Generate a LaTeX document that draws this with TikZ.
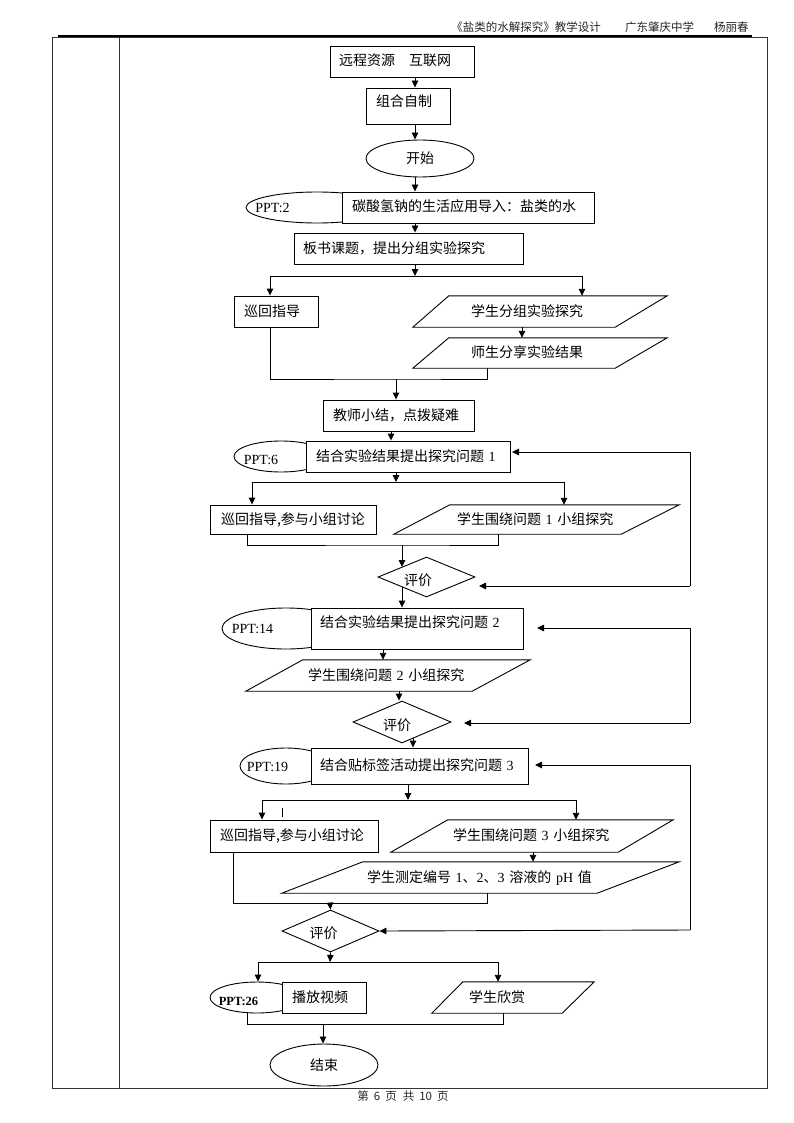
\documentclass[tikz,border=0pt]{standalone}
\usepackage{fontspec}
\setmainfont{Liberation Serif}
\newfontfamily\zhf{Noto Sans CJK SC}
\newfontfamily\latf{Liberation Serif}
\usetikzlibrary{shapes.geometric,arrows.meta}
\begin{document}
\begin{tikzpicture}[x=1pt,y=-1pt,
  line/.style={line width=0.9pt, draw=black},
  arr/.style={line, -{Triangle[length=7pt,width=6.5pt]}},
  zh/.style={font=\fontsize{14}{16}\selectfont\zhf},
  ppt/.style={font=\fontsize{14}{16}\selectfont\latf},
  shp/.style={line, fill=white, inner sep=0pt, zh},
  tb/.style 2 args={shp, rectangle, minimum width=#1, minimum height=#2, text width=#1, align=left, text height=12pt, text depth=3pt},
  pb/.style 2 args={zh, inner sep=0pt, rectangle, minimum width=#1, minimum height=#2, text width=#1, align=left, text height=12pt, text depth=3pt},
  ell/.style 2 args={shp, ellipse, minimum width=#1, minimum height=#2},
  dia/.style 2 args={shp, diamond, minimum width=#1, minimum height=#2},
  hdr/.style={font=\fontsize{11.5}{14}\selectfont\zhf, inner sep=0pt, text=black!85}
]
\useasboundingbox (0,0) rectangle (794,1123);

% header, table frame, footer
\node[hdr, anchor=east] (h1) at (601,27) {《盐类的水解探究》教学设计};
\node[hdr, anchor=west] (h2) at (625,27) {广东肇庆中学};
\node[hdr, anchor=west] (h3) at (714,27) {杨丽春};
\draw[line width=1.6pt] (58,36) -- (752,36);
\draw[line width=0.9pt, draw=black!80] (52,37) rectangle (767,1088);
\draw[line width=0.9pt, draw=black!80] (119,37) -- (119,1088);
\node[hdr] (ft) at (403,1096) {第\hspace{5pt}6\hspace{5pt}页\hspace{6pt}共\hspace{5pt}10\hspace{5pt}页};

% top column
\node[tb={144pt}{31pt}] (n1) at (402,61.5) {\hspace*{9pt}远程资源　互联网};
\node[tb={84pt}{36pt}, text depth=11pt] (n2) at (408,106) {\hspace*{10pt}组合自制};
\node[ell={108pt}{37pt}] (n3) at (420,158.5) {开始};
\node[ell={142pt}{31pt}, label={[ppt, xshift=-44.5pt]center:{PPT:2}}] (e4) at (317,207.5) {};
\node[tb={252pt}{31pt}] (r4) at (468,207.5) {\hspace*{10pt}碳酸氢钠的生活应用导入：盐类的水};
\node[tb={229pt}{31pt}] (r5) at (408.5,248.5) {\hspace*{9pt}板书课题，提出分组实验探究};

\draw[arr] (n1.south -| 415,0) -- (n2.north -| 415,0);
\draw[arr] (n2.south -| 415,0) -- (n3.north -| 415,0);
\draw[arr] (n3.south -| 415,0) -- (r4.north -| 415,0);
\draw[arr] (r4.south -| 415,0) -- (r5.north -| 415,0);

% first branch
\node[tb={84pt}{31pt}] (n6) at (276,311.5) {\hspace*{10pt}巡回指导};
\node[pb={254pt}{31pt}] (p7) at (540,311.5) {\hspace*{58pt}学生分组实验探究};
\draw[line] (p7.south west) -- ([xshift=36pt]p7.north west) -- (p7.north east) -- ([xshift=-52pt]p7.south east) -- cycle;
\node[pb={254pt}{30pt}] (p8) at (540,353) {\hspace*{58pt}师生分享实验结果};
\draw[line] (p8.south west) -- ([xshift=36pt]p8.north west) -- (p8.north east) -- ([xshift=-52pt]p8.south east) -- cycle;

\coordinate (j1) at (415,276);
\draw[arr] (r5.south -| j1) -- (j1);
\draw[arr] (j1) -| (n6.north -| 270,0);
\draw[arr] (j1) -| (p7.north -| 582,0);
\draw[arr] (p7.south -| 522,0) -- (p8.north -| 522,0);

\node[tb={151pt}{31pt}] (n9) at (398.5,415.5) {\hspace*{10pt}教师小结，点拨疑难};
\coordinate (m1) at (396,379);
\draw[line] (n6.south -| 270,0) |- (m1) -| (p8.south -| 487,0);
\draw[arr] (m1) -- (n9.north -| m1);

% question 1
\node[ell={94pt}{31pt}, label={[ppt, xshift=-20pt, yshift=-3.5pt]center:{PPT:6}}] (e10) at (281,456.5) {};
\node[tb={204pt}{31pt}] (r10) at (408,456.5) {\hspace*{10pt}结合实验结果提出探究问题 {\latf 1}};
\draw[arr] (n9.south -| 391,0) -- (r10.north -| 391,0);

\node[tb={166pt}{29pt}] (n11) at (293,519.5) {\hspace*{11pt}巡回指导,参与小组讨论};
\node[pb={285pt}{29pt}] (p12) at (536.5,519.5) {\hspace*{63pt}学生围绕问题 {\latf 1} 小组探究};
\draw[line] (p12.south west) -- ([xshift=56pt]p12.north west) -- (p12.north east) -- ([xshift=-58pt]p12.south east) -- cycle;

\coordinate (j2) at (396,482);
\draw[arr] (r10.south -| j2) -- (j2);
\draw[arr] (j2) -| (n11.north -| 252,0);
\draw[arr] (j2) -| (p12.north -| 564,0);

\node[dia={97pt}{40pt}, label={[zh, xshift=-8.5pt, yshift=-3pt]center:评价}] (d13) at (426.5,577) {};
\coordinate (m2) at (402,545);
\draw[line] (n11.south -| 247,0) |- (m2) -| (p12.south -| 498,0);
\draw[arr] (m2) -- (402,567);

\coordinate (k1) at (690,586);
\draw[arr] (k1) -- (479,586);
\draw[arr] (k1) |- (512,452);

% question 2
\node[ell={128pt}{41pt}, label={[ppt, xshift=-33.5pt]center:{PPT:14}}] (e14) at (286,628.5) {};
\node[tb={212pt}{41pt}, text depth=14pt] (r14) at (417,628.5) {\hspace*{9pt}结合实验结果提出探究问题 {\latf 2}};
\draw[arr] (402,587) -- (r14.north -| 402,0);

\node[pb={284pt}{31pt}] (p15) at (388,675.5) {\hspace*{62pt}学生围绕问题 {\latf 2} 小组探究};
\draw[line] (p15.south west) -- ([xshift=57pt]p15.north west) -- (p15.north east) -- ([xshift=-58pt]p15.south east) -- cycle;
\draw[arr] (r14.south -| 383,0) -- (p15.north -| 383,0);

\node[dia={98pt}{42pt}, label={[zh, xshift=-5pt, yshift=-3pt]center:评价}] (d16) at (402,722) {};
\draw[arr] (p15.south -| 399,0) -- (d16.north -| 399,0);

\coordinate (k2) at (690,723);
\draw[arr] (k2) -- (464,723);
\draw[arr] (k2) |- (537,628);

% question 3
\node[ell={92pt}{36pt}, label={[ppt, xshift=-18.5pt, yshift=-1pt]center:{PPT:19}}] (e17) at (286,766) {};
\node[tb={217pt}{36pt}] (r17) at (419.5,766) {\hspace*{9pt}结合贴标签活动提出探究问题 {\latf 3}};
\draw[arr] (413,738) -- (r17.north -| 413,0);

\node[tb={168pt}{32pt}] (n18) at (294,836) {\hspace*{10pt}巡回指导,参与小组讨论};
\node[pb={282pt}{32pt}] (p19) at (532,836) {\hspace*{62pt}学生围绕问题 {\latf 3} 小组探究};
\draw[line] (p19.south west) -- ([xshift=57pt]p19.north west) -- (p19.north east) -- ([xshift=-55pt]p19.south east) -- cycle;

\coordinate (j3) at (408,800);
\draw[arr] (r17.south -| j3) -- (j3);
\draw[arr] (j3) -| (n18.north -| 262,0);
\draw[arr] (j3) -| (p19.north -| 576,0);
\draw[line] (282,808) -- (282,817);

\node[pb={397pt}{31pt}] (p20) at (480.5,877.5) {\hspace*{85pt}学生测定编号 {\latf 1}、{\latf 2}、{\latf 3} 溶液的 {\latf pH} 值};
\draw[line] (p20.south west) -- ([xshift=81pt]p20.north west) -- (p20.north east) -- ([xshift=-82pt]p20.south east) -- cycle;
\draw[arr] (p19.south -| 533,0) -- (p20.north -| 533,0);

\node[dia={97pt}{42pt}, label={[zh, xshift=-7pt, yshift=-2pt]center:评价}] (d21) at (330.5,931) {};
\coordinate (m3) at (330,903);
\draw[line] (n18.south -| 233,0) |- (m3) -| (p20.south -| 487,0);
\draw[arr] (m3) -- (d21.north);

\coordinate (k3) at (690,930);
\draw[arr] (k3) -- (d21.east);
\draw[arr] (k3) |- (535,765);

% ending
\node[ell={94pt}{31pt}, label={[font=\fontsize{12.5}{14}\selectfont\latf\bfseries, xshift=-18.5pt, yshift=-3.5pt]center:{PPT:26}}] (e22) at (257,997.5) {};
\node[tb={84pt}{31pt}] (r22) at (324,997.5) {\hspace*{10pt}播放视频};
\node[pb={162pt}{31pt}] (p23) at (513,997.5) {\hspace*{37pt}学生欣赏};
\draw[line] (p23.south west) -- ([xshift=31pt]p23.north west) -- (p23.north east) -- ([xshift=-32pt]p23.south east) -- cycle;

\coordinate (j4) at (330,962);
\draw[arr] (d21.south) -- (j4);
\draw[arr] (j4) -| (e22.north -| 258,0);
\draw[arr] (j4) -| (p23.north -| 498,0);

\node[ell={108pt}{42pt}] (e24) at (324,1065) {结束};
\coordinate (m4) at (323,1024);
\draw[line] (e22.south -| 247,0) |- (m4) -| (p23.south -| 503,0);
\draw[arr] (m4) -- (e24.north -| m4);
\end{tikzpicture}
\end{document}
